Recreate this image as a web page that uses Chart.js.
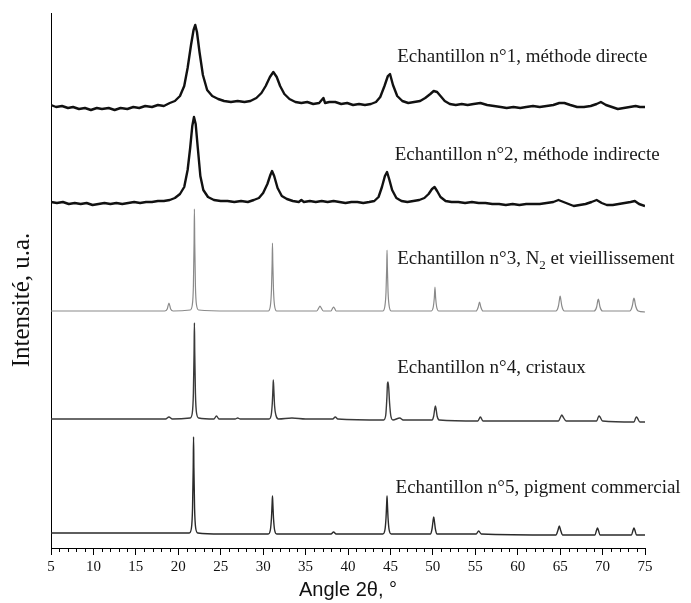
<!DOCTYPE html>
<html>
<head>
<meta charset="utf-8">
<script src="https://cdn.jsdelivr.net/npm/chart.js@4.4.0/dist/chart.umd.min.js"></script>
<style>
    html, body { margin: 0; padding: 0; background: #fff; }
    #wrap { width: 691px; height: 603px; position: relative; }
</style>
</head>
<body>
<div id="wrap"><canvas id="xrdChart"></canvas></div>
<script>
// -------------- Données (angle 2θ, intensité u.a. décalée) --------------

const trace1 = [
    [5, 443], [5.6, 441], [6.3, 442], [7, 440], [7.6, 441], [8.3, 439], [9, 440], [9.7, 438],
    [10.4, 440], [11, 439], [11.8, 440], [12.5, 438], [13.2, 440], [14, 439], [14.7, 441],
    [15.4, 440], [16.1, 442], [16.9, 441], [17.6, 443], [18.3, 442], [19, 445], [19.6, 447],
    [20.2, 452], [20.7, 462], [21.1, 480], [21.5, 503], [21.8, 518], [22, 523], [22.2, 516],
    [22.5, 496], [22.9, 473], [23.4, 458], [24, 452], [24.7, 449], [25.4, 447], [26.2, 446],
    [27, 447], [27.8, 446], [28.5, 447], [29.2, 450], [29.8, 455], [30.3, 462], [30.8, 471],
    [31.2, 476], [31.6, 471], [32, 462], [32.5, 454], [33.1, 449], [33.8, 446], [34.5, 445],
    [35.2, 446], [35.9, 444], [36.6, 445], [37.1, 450], [37.3, 445], [37.8, 446], [38.5, 446],
    [39.2, 444], [39.9, 445], [40.6, 443], [41.3, 444], [42, 443], [42.7, 444], [43.3, 446],
    [43.8, 451], [44.3, 462], [44.7, 472], [44.95, 474], [45.3, 463], [45.8, 452], [46.4, 447],
    [47.1, 445], [47.8, 446], [48.5, 447], [49.1, 450], [49.7, 454], [50.1, 457], [50.5, 456],
    [50.9, 452], [51.4, 447], [52, 444], [52.7, 443], [53.4, 444], [54.1, 443], [54.8, 444],
    [55.6, 445], [56.4, 443], [57.2, 442], [58, 441], [58.7, 440], [59.5, 441], [60.3, 440],
    [61, 441], [61.8, 442], [62.6, 441], [63.4, 442], [64.2, 443], [64.9, 445], [65.5, 445],
    [66.2, 443], [67, 441], [67.8, 441], [68.6, 442], [69.3, 444], [69.8, 446], [70.4, 443],
    [71.1, 441], [71.8, 439], [72.5, 440], [73.2, 441], [73.9, 442], [74.4, 441], [75, 441]
];

const trace2 = [
    [5, 346], [5.7, 345], [6.4, 346], [7.1, 344], [7.8, 345], [8.5, 344], [9.2, 345], [9.9, 343],
    [10.6, 344], [11.3, 345], [12, 344], [12.7, 345], [13.4, 344], [14.1, 345], [14.8, 346],
    [15.5, 345], [16.2, 346], [16.9, 346], [17.6, 347], [18.3, 347], [19, 348], [19.6, 350],
    [20.2, 354], [20.7, 361], [21.1, 378], [21.4, 400], [21.65, 422], [21.85, 431], [22.05, 424],
    [22.3, 400], [22.6, 372], [22.95, 358], [23.5, 351], [24.2, 348], [25, 347], [25.8, 347],
    [26.6, 346], [27.4, 347], [28.2, 346], [28.9, 348], [29.5, 350], [30, 355], [30.5, 364],
    [30.85, 373], [31.05, 377], [31.3, 372], [31.7, 360], [32.2, 352], [32.8, 349], [33.5, 347],
    [34.2, 346], [34.5, 348], [34.8, 346], [35.5, 347], [36.2, 346], [36.9, 347], [37.6, 346],
    [38.3, 347], [39, 346], [39.7, 345], [40.4, 346], [41.1, 346], [41.8, 345], [42.5, 346],
    [43.1, 347], [43.6, 351], [44, 361], [44.35, 372], [44.6, 376], [44.85, 369], [45.2, 358],
    [45.7, 350], [46.3, 347], [47, 346], [47.7, 347], [48.4, 348], [49, 350], [49.5, 354],
    [49.9, 359], [50.2, 361], [50.5, 357], [50.9, 351], [51.5, 347], [52.2, 346], [53, 346],
    [53.8, 345], [54.6, 346], [55.4, 345], [56.2, 345], [57, 344], [57.8, 344], [58.6, 343],
    [59.4, 344], [60.2, 343], [61, 344], [61.8, 344], [62.6, 344], [63.4, 345], [64.2, 346],
    [64.8, 348], [65.4, 346], [66, 344], [66.6, 342], [67.3, 343], [68, 344], [68.7, 346],
    [69.3, 348], [69.9, 345], [70.5, 343], [71.2, 343], [71.9, 344], [72.6, 345], [73.3, 346],
    [73.8, 347], [74.3, 344], [75, 342]
];

const trace3 = [
    [5, 237], [10, 237], [15, 237], [18.4, 237], [18.7, 239], [18.9, 245], [19.1, 239], [19.4, 237],
    [21.4, 238], [21.65, 243], [21.78, 262], [21.86, 305], [21.9, 339], [21.94, 305], [22.02, 262],
    [22.15, 243], [22.4, 238], [26, 237], [30.6, 237], [30.85, 242], [30.98, 258], [31.06, 285],
    [31.1, 305], [31.14, 285], [31.22, 258], [31.35, 242], [31.6, 237], [36.3, 237], [36.55, 240],
    [36.7, 242], [36.85, 240], [37.1, 237], [38, 237], [38.2, 240], [38.3, 241], [38.4, 240],
    [38.6, 237], [44.1, 237], [44.35, 242], [44.48, 256], [44.56, 280], [44.6, 298], [44.64, 280],
    [44.72, 256], [44.85, 242], [45.1, 237], [49.8, 237], [50.05, 241], [50.17, 250], [50.25, 261],
    [50.33, 250], [50.45, 241], [50.7, 237], [55.1, 237], [55.35, 241], [55.5, 246], [55.65, 241],
    [55.9, 237], [64.5, 237], [64.8, 242], [64.93, 249], [65, 252], [65.07, 249], [65.2, 242],
    [65.5, 237], [69, 237], [69.3, 241], [69.43, 247], [69.5, 249], [69.57, 247], [69.7, 241],
    [70, 237], [73.2, 237], [73.5, 242], [73.63, 248], [73.7, 250], [73.77, 248], [73.9, 242],
    [74.2, 237], [75, 236]
];

const trace4 = [
    [5, 129], [10, 129], [15, 129], [18.5, 129], [18.9, 131], [19.3, 129],
    [21.4, 130], [21.65, 135], [21.78, 155], [21.86, 195], [21.9, 225], [21.94, 195], [22.02, 155],
    [22.15, 135], [22.4, 130], [24.2, 129], [24.5, 132], [24.8, 129], [26.7, 129], [27, 130],
    [27.3, 129], [30.7, 129], [30.95, 133], [31.08, 145], [31.16, 160], [31.2, 168], [31.26, 158],
    [31.35, 142], [31.5, 133], [31.8, 129], [33.4, 130], [35, 129], [38.2, 129], [38.5, 131],
    [38.8, 129], [44.2, 128], [44.45, 133], [44.58, 150], [44.66, 165], [44.72, 166], [44.8, 160],
    [44.9, 145], [45.05, 132], [45.3, 128], [46.1, 130], [46.5, 128], [49.9, 128], [50.1, 132],
    [50.22, 139], [50.3, 142], [50.38, 139], [50.5, 132], [50.75, 128], [55.3, 127], [55.6, 131],
    [55.9, 127], [60, 127], [64.8, 127], [65.05, 131], [65.2, 133], [65.35, 131], [65.7, 127],
    [69.3, 127], [69.5, 131], [69.6, 132], [69.7, 131], [70, 127], [73.7, 126], [73.9, 130],
    [74, 131], [74.1, 130], [74.4, 126], [75, 126]
];

const trace5 = [
    [5, 15], [10, 15], [15, 15], [19, 15], [21.3, 15], [21.55, 20], [21.68, 40], [21.76, 80],
    [21.8, 111], [21.84, 80], [21.92, 40], [22.05, 20], [22.3, 15], [25, 14], [30.6, 14],
    [30.85, 18], [30.98, 30], [31.06, 45], [31.1, 52], [31.14, 45], [31.22, 30], [31.35, 18],
    [31.6, 14], [38, 14], [38.3, 16], [38.6, 14], [44.1, 14], [44.35, 18], [44.48, 30],
    [44.56, 45], [44.6, 52], [44.64, 45], [44.72, 30], [44.85, 18], [45.1, 14], [49.7, 14],
    [49.9, 19], [50.02, 27], [50.1, 31], [50.18, 27], [50.3, 19], [50.5, 14], [55.1, 14],
    [55.4, 17], [55.7, 14], [64.5, 13], [64.75, 18], [64.9, 22], [65.05, 18], [65.3, 13],
    [69.1, 13], [69.3, 18], [69.4, 20], [69.5, 18], [69.7, 13], [73.4, 13], [73.6, 18],
    [73.7, 20], [73.8, 18], [74, 13], [75, 13]
];

const sampleLabels = [
    'Echantillon n°1, méthode directe',
    'Echantillon n°2, méthode indirecte',
    'Echantillon n°3, N₂ et vieillissement',
    'Echantillon n°4, cristaux',
    'Echantillon n°5, pigment commercial'
];
const labelAngles = [45.8, 45.5, 45.8, 45.8, 45.6];
const labelLevels = [486, 388, 284, 175, 55];

const xTitle = 'Angle 2θ, °';
const yTitle = 'Intensité, u.a.';

// -------------- Plugins --------------

const minorTicks = {
    id: 'minorTicks',
    afterDraw(chart) {
        const { ctx, scales: { x } } = chart;
        ctx.save();
        ctx.strokeStyle = '#000';
        ctx.lineWidth = 1;
        for (let v = x.min; v <= x.max; v++) {
            if (v % 5 === 0) continue;
            const px = Math.round(x.getPixelForValue(v)) + 0.5;
            ctx.beginPath();
            ctx.moveTo(px, x.top);
            ctx.lineTo(px, x.top + 4);
            ctx.stroke();
        }
        ctx.restore();
    }
};

// textes des échantillons + titre vertical (un peu plus bas que le centre)
const sampleText = {
    id: 'sampleText',
    afterDatasetsDraw(chart) {
        const { ctx, scales: { x, y } } = chart;
        ctx.save();
        ctx.fillStyle = '#1a1a1a';
        ctx.textBaseline = 'alphabetic';
        const big = '19px "Liberation Serif"';
        const small = '13px "Liberation Serif"';
        sampleLabels.forEach((label, i) => {
            let px = x.getPixelForValue(labelAngles[i]);
            const py = y.getPixelForValue(labelLevels[i]);
            const parts = label.split('₂');
            parts.forEach((part, j) => {
                ctx.font = big;
                ctx.fillText(part, px, py);
                px += ctx.measureText(part).width;
                if (j < parts.length - 1) {
                    ctx.font = small;
                    ctx.fillText('2', px, py + 5);
                    px += ctx.measureText('2').width;
                }
            });
        });

        ctx.translate(22, y.getPixelForValue(248));
        ctx.rotate(-Math.PI / 2);
        ctx.font = '25px "Liberation Serif"';
        ctx.textAlign = 'center';
        ctx.textBaseline = 'middle';
        ctx.fillStyle = '#111';
        ctx.fillText(yTitle, 0, 0);
        ctx.restore();
    }
};

// -------------- Graphique --------------

function makeSeries(points, color, width, smooth) {
    return {
        data: points.map(([a, v]) => ({ x: a, y: v })),
        borderColor: color,
        borderWidth: width,
        borderJoinStyle: 'round',
        pointRadius: 0,
        fill: false,
        tension: 0,
        cubicInterpolationMode: smooth ? 'monotone' : 'default'
    };
}

new Chart(document.getElementById('xrdChart'), {
    type: 'line',
    data: {
        datasets: [
            makeSeries(trace1, '#111', 2.4, false),
            makeSeries(trace2, '#111', 2.4, false),
            makeSeries(trace3, '#8a8a8a', 1.2, true),
            makeSeries(trace4, '#3a3a3a', 1.4, true),
            makeSeries(trace5, '#2a2a2a', 1.4, true)
        ]
    },
    options: {
        responsive: true,
        maintainAspectRatio: false,
        animation: false,
        layout: { padding: { top: 13, right: 46, left: 0, bottom: 0 } },
        plugins: {
            legend: { display: false },
            tooltip: { enabled: false }
        },
        scales: {
            x: {
                type: 'linear',
                min: 5,
                max: 75,
                afterFit: scale => { scale.height = 55; },
                ticks: {
                    stepSize: 5,
                    color: '#111',
                    padding: 3,
                    font: { family: 'Liberation Serif', size: 15 }
                },
                grid: { drawOnChartArea: false, tickLength: 7, color: '#000' },
                border: { color: '#000', width: 1 },
                title: {
                    display: true,
                    text: xTitle,
                    color: '#111',
                    font: { family: 'Liberation Sans', size: 20 },
                    padding: { top: 0, bottom: 1 }
                }
            },
            y: {
                min: 0,
                max: 535,
                afterFit: scale => { scale.width = 51; },
                ticks: { display: false },
                grid: { display: false },
                border: { color: '#000', width: 1 },
                title: { display: false }
            }
        }
    },
    plugins: [minorTicks, sampleText]
});
</script>
</body>
</html>
